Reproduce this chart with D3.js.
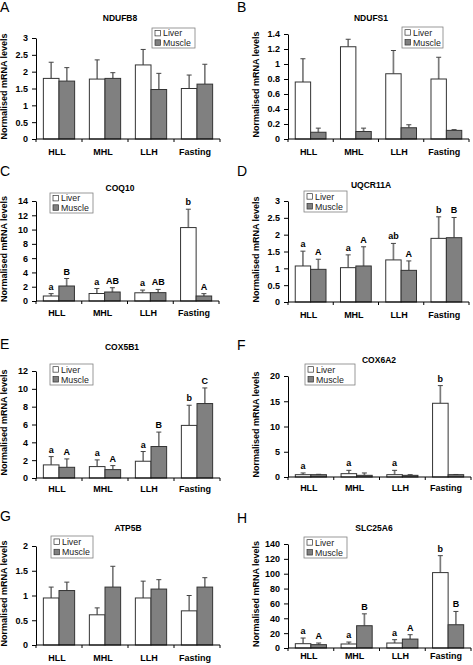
<!DOCTYPE html>
<html><head><meta charset="utf-8">
<script src="https://cdn.jsdelivr.net/npm/d3@7"></script>
<style>body{margin:0;background:#fff} svg{display:block;font-family:"Liberation Sans",Arial,sans-serif}</style>
</head><body><svg id="chart" width="473" height="665"></svg>
<script>
const categories = ["HLL", "MHL", "LLH", "Fasting"];
const seriesNames = ["Liver", "Muscle"];
const genes = ["NDUFB8", "NDUFS1", "COQ10", "UQCR11A", "COX5B1", "COX6A2", "ATP5B", "SLC25A6"];
const panelLetters = ["A", "B", "C", "D", "E", "F", "G", "H"];
const yMaxima = [3, 1.4, 14, 3, 12, 20, 2, 140];
const yTickSteps = [0.5, 0.2, 2, 0.5, 2, 5, 0.5, 20];

const ndufb8Liver = [1.80, 1.78, 2.20, 1.50];
const ndufb8LiverErr = [0.48, 0.57, 0.46, 0.40];
const ndufb8Muscle = [1.72, 1.80, 1.47, 1.63];
const ndufb8MuscleErr = [0.40, 0.17, 0.48, 0.59];

const ndufs1Liver = [0.76, 1.23, 0.87, 0.80];
const ndufs1LiverErr = [0.31, 0.10, 0.31, 0.29];
const ndufs1Muscle = [0.09, 0.10, 0.15, 0.115];
const ndufs1MuscleErr = [0.055, 0.045, 0.04, 0.01];

const coq10Liver = [0.70, 1.05, 1.15, 10.28];
const coq10LiverErr = [0.33, 0.70, 0.38, 2.57];
const coq10Muscle = [2.10, 1.26, 1.17, 0.70];
const coq10MuscleErr = [1.05, 0.60, 0.45, 0.33];
const coq10LiverLetters = ["a", "a", "a", "b"];
const coq10MuscleLetters = ["B", "AB", "AB", "A"];

const uqcr11aLiver = [1.07, 1.02, 1.25, 1.89];
const uqcr11aLiverErr = [0.44, 0.38, 0.49, 0.64];
const uqcr11aMuscle = [0.97, 1.07, 0.94, 1.91];
const uqcr11aMuscleErr = [0.30, 0.57, 0.28, 0.60];
const uqcr11aLiverLetters = ["a", "a", "ab", "b"];
const uqcr11aMuscleLetters = ["A", "A", "A", "B"];

const cox5b1Liver = [1.47, 1.28, 1.88, 5.90];
const cox5b1LiverErr = [0.93, 0.75, 1.09, 2.26];
const cox5b1Muscle = [1.20, 0.94, 3.53, 8.35];
const cox5b1MuscleErr = [0.94, 0.45, 1.62, 1.75];
const cox5b1LiverLetters = ["a", "a", "a", "b"];
const cox5b1MuscleLetters = ["A", "A", "B", "C"];

const cox6a2Liver = [0.46, 0.66, 0.46, 14.6];
const cox6a2LiverErr = [0.34, 0.66, 0.86, 3.5];
const cox6a2Muscle = [0.46, 0.33, 0.33, 0.46];
const cox6a2MuscleErr = [0.07, 0.47, 0.13, 0.04];
const cox6a2LiverLetters = ["a", "a", "a", "b"];
const cox6a2MuscleLetters = ["", "", "", ""];

const atp5bLiver = [0.95, 0.61, 0.95, 0.69];
const atp5bLiverErr = [0.22, 0.14, 0.34, 0.31];
const atp5bMuscle = [1.10, 1.17, 1.13, 1.17];
const atp5bMuscleErr = [0.17, 0.42, 0.19, 0.19];

const slc25a6Liver = [5.8, 5.4, 6.7, 101.5];
const slc25a6LiverErr = [7.6, 2.6, 4.5, 22.8];
const slc25a6Muscle = [4.5, 30, 12, 31.3];
const slc25a6MuscleErr = [2.2, 16, 5.9, 17.9];
const slc25a6LiverLetters = ["a", "a", "a", "b"];
const slc25a6MuscleLetters = ["A", "B", "A", "B"];

const noLetters = ["", "", "", ""];

const liverValues = [ndufb8Liver, ndufs1Liver, coq10Liver, uqcr11aLiver, cox5b1Liver, cox6a2Liver, atp5bLiver, slc25a6Liver];
const liverErrors = [ndufb8LiverErr, ndufs1LiverErr, coq10LiverErr, uqcr11aLiverErr, cox5b1LiverErr, cox6a2LiverErr, atp5bLiverErr, slc25a6LiverErr];
const muscleValues = [ndufb8Muscle, ndufs1Muscle, coq10Muscle, uqcr11aMuscle, cox5b1Muscle, cox6a2Muscle, atp5bMuscle, slc25a6Muscle];
const muscleErrors = [ndufb8MuscleErr, ndufs1MuscleErr, coq10MuscleErr, uqcr11aMuscleErr, cox5b1MuscleErr, cox6a2MuscleErr, atp5bMuscleErr, slc25a6MuscleErr];
const liverLetters = [noLetters, noLetters, coq10LiverLetters, uqcr11aLiverLetters, cox5b1LiverLetters, cox6a2LiverLetters, noLetters, slc25a6LiverLetters];
const muscleLetters = [noLetters, noLetters, coq10MuscleLetters, uqcr11aMuscleLetters, cox5b1MuscleLetters, cox6a2MuscleLetters, noLetters, slc25a6MuscleLetters];

// layout (pixel positions) per panel
const layouts = [
  {x0:36, x1:220, yBase:139, yTop:38, titleX:120, titleY:21, letterY:12, legX:152, legY:28, legW:43, legH:20, catDy:16},
  {x0:288, x1:469, yBase:139, yTop:34, titleX:371, titleY:21, letterY:12, legX:402, legY:27, legW:41, legH:21, catDy:16},
  {x0:36, x1:219, yBase:301, yTop:201, titleX:120, titleY:191, letterY:176, legX:50, legY:193, legW:43, legH:20, catDy:15},
  {x0:288, x1:469, yBase:302, yTop:201, titleX:371, titleY:188, letterY:176, legX:304, legY:191, legW:43, legH:21, catDy:16},
  {x0:36, x1:220, yBase:478, yTop:371, titleX:122, titleY:350, letterY:349, legX:50, legY:364, legW:43, legH:21, catDy:14},
  {x0:288, x1:471, yBase:477, yTop:376, titleX:379, titleY:363, letterY:350, legX:305, legY:364, legW:50, legH:21, catDy:14},
  {x0:36, x1:220, yBase:645, yTop:546, titleX:128, titleY:531, letterY:521, legX:51, legY:536, legW:42, legH:22, catDy:16},
  {x0:288, x1:471, yBase:648, yTop:544, titleX:374, titleY:531, letterY:523, legX:304, legY:537, legW:43, legH:21, catDy:11}
];

const liverFill = "#ffffff", muscleFill = "#808080";
const svg = d3.select("#chart");

layouts.forEach((L, i) => {
  const g = svg.append("g");
  const col = i % 2;
  const x = d3.scaleBand().domain(categories).range([L.x0, L.x1]).padding(0);
  const xs = d3.scaleBand().domain(seriesNames)
    .range([x.bandwidth() * 0.16, x.bandwidth() * 0.84]).padding(0);
  const y = d3.scaleLinear().domain([0, yMaxima[i]]).range([L.yBase, L.yTop]);

  g.append("text").attr("x", col ? 237 : 0).attr("y", L.letterY)
    .attr("font-size", 14).text(panelLetters[i]);
  g.append("text").attr("x", L.titleX).attr("y", L.titleY).attr("text-anchor", "middle")
    .attr("font-size", 8.5).attr("font-weight", "bold").text(genes[i]);
  const cy = (L.yBase + L.yTop) / 2 - 2;
  g.append("text").attr("transform", `translate(${L.x0 - 29},${cy}) rotate(-90)`)
    .attr("text-anchor", "middle").attr("font-size", 9).attr("font-weight", "bold")
    .text("Normalised mRNA levels");

  const rows = categories.map((c, k) => ({
    cat: c,
    vals: [
      {s: "Liver", v: liverValues[i][k], e: liverErrors[i][k], lab: liverLetters[i][k]},
      {s: "Muscle", v: muscleValues[i][k], e: muscleErrors[i][k], lab: muscleLetters[i][k]}
    ]
  }));

  const grp = g.selectAll(".grp").data(rows).join("g")
    .attr("transform", d => `translate(${x(d.cat)},0)`);
  const bar = grp.selectAll(".b").data(d => d.vals).join("g");
  bar.append("line")
    .attr("x1", d => xs(d.s) + xs.bandwidth() / 2).attr("x2", d => xs(d.s) + xs.bandwidth() / 2)
    .attr("y1", d => y(d.v)).attr("y2", d => y(d.v + d.e))
    .attr("stroke", "#7a7a7a").attr("stroke-width", 1.7);
  bar.append("line")
    .attr("x1", d => xs(d.s) + xs.bandwidth() / 2 - 2.5).attr("x2", d => xs(d.s) + xs.bandwidth() / 2 + 2.5)
    .attr("y1", d => y(d.v + d.e)).attr("y2", d => y(d.v + d.e))
    .attr("stroke", "#444").attr("stroke-width", 1);
  bar.append("rect")
    .attr("x", d => xs(d.s)).attr("width", xs.bandwidth())
    .attr("y", d => y(d.v)).attr("height", d => y(0) - y(d.v))
    .attr("fill", d => d.s === "Liver" ? liverFill : muscleFill)
    .attr("stroke", "#333").attr("stroke-width", 1);
  bar.append("text")
    .attr("x", d => xs(d.s) + xs.bandwidth() / 2).attr("y", d => y(d.v + d.e) - 4)
    .attr("text-anchor", "middle").attr("font-size", 9).attr("font-weight", "bold")
    .text(d => d.lab);

  const ticks = d3.range(0, yMaxima[i] + yTickSteps[i] / 2, yTickSteps[i]);
  const yAxis = d3.axisLeft(y).tickValues(ticks).tickSize(4).tickSizeOuter(0).tickPadding(4)
    .tickFormat(d => d3.format("~g")(+d.toFixed(2)));
  const ya = g.append("g").attr("transform", `translate(${L.x0},0)`).call(yAxis);
  ya.selectAll("text").attr("font-size", 9).attr("font-weight", "bold").attr("fill", "#000")
    .attr("font-family", "Liberation Sans, Arial, sans-serif");
  ya.selectAll("line, path").attr("stroke", "#000");

  g.append("line").attr("x1", L.x0).attr("x2", L.x1).attr("y1", L.yBase).attr("y2", L.yBase)
    .attr("stroke", "#000");
  const bounds = categories.map(c => x(c)).concat([L.x1]);
  g.selectAll(".xt").data(bounds).join("line")
    .attr("x1", d => d).attr("x2", d => d).attr("y1", L.yBase).attr("y2", L.yBase + 3)
    .attr("stroke", "#000");
  g.selectAll(".xl").data(categories).join("text")
    .attr("x", d => x(d) + x.bandwidth() / 2 - 2).attr("y", L.yBase + L.catDy)
    .attr("text-anchor", "middle").attr("font-size", 9).attr("font-weight", "bold").text(d => d);

  const lg = g.append("g").attr("transform", `translate(${L.legX},${L.legY})`);
  lg.append("rect").attr("width", L.legW).attr("height", L.legH)
    .attr("fill", "#fff").attr("stroke", "#808080").attr("stroke-width", 0.8);
  seriesNames.forEach((s, k) => {
    const yy = L.legH * (0.27 + k * 0.47);
    lg.append("rect").attr("x", 3).attr("y", yy - 3).attr("width", 5.5).attr("height", 5.5)
      .attr("fill", s === "Liver" ? liverFill : muscleFill).attr("stroke", "#333").attr("stroke-width", 0.7);
    lg.append("text").attr("x", 11).attr("y", yy + 3).attr("font-size", 8.8).attr("fill", "#222").text(s);
  });
});
</script></body></html>
